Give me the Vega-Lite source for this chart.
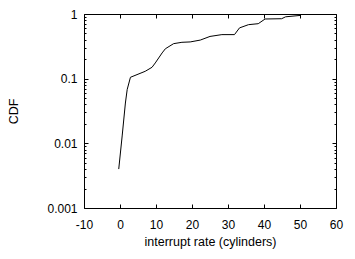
{
  "$schema": "https://vega.github.io/schema/vega-lite/v6.json",
  "width": 252,
  "height": 194,
  "autosize": {"type": "none"},
  "padding": {"left": 84, "top": 14, "right": 19, "bottom": 51},
  "background": "white",
  "config": {
    "view": {"stroke": null},
    "axis": {
      "labelFont": "Liberation Sans",
      "labelFontSize": 12,
      "labelColor": "black",
      "titleFont": "Liberation Sans",
      "titleFontSize": 12.5,
      "titleFontWeight": "normal",
      "titleColor": "black",
      "domainColor": "black",
      "domainWidth": 1,
      "tickColor": "black",
      "tickWidth": 1,
      "grid": false
    }
  },
  "data": {
    "values": [
      {"x": -0.35, "y": 0.004},
      {"x": 0.6, "y": 0.013},
      {"x": 1.5, "y": 0.042},
      {"x": 2.0, "y": 0.068},
      {"x": 2.9, "y": 0.105},
      {"x": 7.0, "y": 0.13},
      {"x": 8.9, "y": 0.15},
      {"x": 9.8, "y": 0.175},
      {"x": 11.7, "y": 0.25},
      {"x": 12.6, "y": 0.29},
      {"x": 14.9, "y": 0.348},
      {"x": 17.2, "y": 0.365},
      {"x": 19.5, "y": 0.37},
      {"x": 22.3, "y": 0.395},
      {"x": 25, "y": 0.45},
      {"x": 28.3, "y": 0.48},
      {"x": 31.8, "y": 0.48},
      {"x": 33.2, "y": 0.61},
      {"x": 35.7, "y": 0.684},
      {"x": 38.4, "y": 0.708},
      {"x": 40.3, "y": 0.837},
      {"x": 44.9, "y": 0.845},
      {"x": 46, "y": 0.905},
      {"x": 50, "y": 0.95},
      {"x": 50.3, "y": 0.99},
      {"x": 52.7, "y": 1}
    ]
  },
  "layer": [
    {
      "mark": {"type": "line", "color": "black", "strokeWidth": 1, "clip": true},
      "encoding": {
        "x": {
          "field": "x", "type": "quantitative",
          "scale": {"domain": [-10, 60], "nice": false, "zero": false},
          "axis": {
            "orient": "bottom",
            "title": "interrupt rate (cylinders)",
            "values": [-10, 0, 10, 20, 30, 40, 50, 60],
            "labelExpr": "'' + datum.value",
            "tickSize": -4,
            "labelPadding": 15,
            "titlePadding": 5,
            "labelFlush": false
          }
        },
        "y": {
          "field": "y", "type": "quantitative",
          "scale": {"type": "log", "domain": [0.001, 1], "nice": false},
          "axis": {
            "orient": "left",
            "title": "CDF",
            "values": [0.001, 0.01, 0.1, 1],
            "format": "~g",
            "tickSize": -4,
            "labelPadding": 11,
            "titlePadding": 26,
            "labelFlush": false
          }
        }
      }
    },
    {
      "mark": {"type": "line", "strokeOpacity": 0},
      "encoding": {
        "x": {
          "field": "x", "type": "quantitative",
          "axis": {"orient": "top", "title": null, "labels": false, "values": [-10, 0, 10, 20, 30, 40, 50, 60], "tickSize": -4}
        },
        "y": {
          "field": "y", "type": "quantitative",
          "axis": {"orient": "right", "title": null, "labels": false, "values": [0.001, 0.01, 0.1, 1], "tickSize": -4}
        }
      }
    },
    {
      "mark": {"type": "line", "strokeOpacity": 0},
      "encoding": {
        "x": {"field": "x", "type": "quantitative", "axis": null},
        "y": {
          "field": "y", "type": "quantitative",
          "axis": {
            "orient": "left", "title": null, "labels": false, "domain": false, "tickSize": -2,
            "values": [0.002, 0.003, 0.004, 0.005, 0.006, 0.007, 0.008, 0.009, 0.02, 0.03, 0.04, 0.05, 0.06, 0.07, 0.08, 0.09, 0.2, 0.3, 0.4, 0.5, 0.6, 0.7, 0.8, 0.9]
          }
        }
      }
    },
    {
      "mark": {"type": "line", "strokeOpacity": 0},
      "encoding": {
        "x": {"field": "x", "type": "quantitative", "axis": null},
        "y": {
          "field": "y", "type": "quantitative",
          "axis": {
            "orient": "right", "title": null, "labels": false, "domain": false, "tickSize": -2,
            "values": [0.002, 0.003, 0.004, 0.005, 0.006, 0.007, 0.008, 0.009, 0.02, 0.03, 0.04, 0.05, 0.06, 0.07, 0.08, 0.09, 0.2, 0.3, 0.4, 0.5, 0.6, 0.7, 0.8, 0.9]
          }
        }
      }
    }
  ],
  "resolve": {"axis": {"x": "independent", "y": "independent"}, "scale": {"x": "shared", "y": "shared"}}
}
